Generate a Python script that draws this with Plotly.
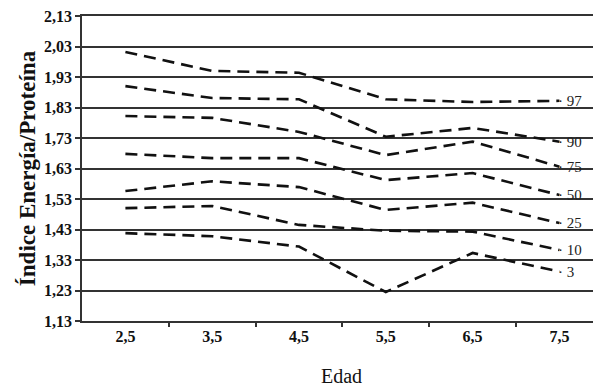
import plotly.graph_objects as go

edad = [2.5, 3.5, 4.5, 5.5, 6.5, 7.5]
edad_labels = ["2,5", "3,5", "4,5", "5,5", "6,5", "7,5"]
boundaries = [3, 4, 5, 6, 7]

percentiles = ["97", "90", "75", "50", "25", "10", "3"]
p97 = [2.012, 1.950, 1.944, 1.857, 1.848, 1.852]
p90 = [1.900, 1.861, 1.857, 1.734, 1.763, 1.718]
p75 = [1.802, 1.796, 1.750, 1.674, 1.718, 1.636]
p50 = [1.678, 1.664, 1.664, 1.592, 1.615, 1.543]
p25 = [1.556, 1.588, 1.569, 1.494, 1.518, 1.451]
p10 = [1.500, 1.507, 1.445, 1.426, 1.423, 1.363]
p3 = [1.418, 1.408, 1.374, 1.225, 1.353, 1.292]
series = [p97, p90, p75, p50, p25, p10, p3]

y_ticks = [1.13, 1.23, 1.33, 1.43, 1.53, 1.63, 1.73, 1.83, 1.93, 2.03, 2.13]
y_tick_labels = ["1,13", "1,23", "1,33", "1,43", "1,53", "1,63", "1,73", "1,83", "1,93", "2,03", "2,13"]

serif = "Liberation Serif, Times New Roman, serif"

fig = go.Figure()
for name, vals in zip(percentiles, series):
    fig.add_trace(go.Scatter(
        x=edad, y=vals, mode="lines", name=name,
        line=dict(color="#111111", width=2.6, dash="12px,7px"),
        showlegend=False, hoverinfo="skip",
    ))
    fig.add_annotation(
        x=edad[-1], y=vals[-1], xref="x", yref="y", text="· " + name,
        showarrow=False, xanchor="left", yanchor="middle", xshift=-3,
        font=dict(family=serif, size=15, color="#222222"),
    )

# page body has an 8px margin, so the figure is sized/offset to compensate
fig.update_layout(
    width=593, height=379,
    margin=dict(l=74, r=0, t=8, b=66),
    paper_bgcolor="white", plot_bgcolor="white",
    showlegend=False,
)
fig.update_xaxes(
    automargin=False,
    range=[2.0, 7.979],
    tickvals=edad, ticktext=edad_labels, ticks="",
    tickfont=dict(family=serif, size=16, color="#111111", weight="bold"),
    showgrid=False, zeroline=False,
    showline=True, mirror=True, linecolor="#333333", linewidth=1.5,
    minor=dict(tickvals=boundaries, ticks="outside", ticklen=4, tickwidth=1.5, tickcolor="#333333", showgrid=False),
    title=dict(text="Edad", font=dict(family=serif, size=20, color="#111111"), standoff=26),
)
fig.update_yaxes(
    automargin=False,
    range=[1.13, 2.13],
    tickvals=y_ticks, ticktext=y_tick_labels, ticklabeloverflow="allow",
    ticks="outside", ticklen=5, tickwidth=1.5, tickcolor="#333333",
    tickfont=dict(family=serif, size=16, color="#111111", weight="bold"),
    showgrid=True, gridcolor="#333333", gridwidth=1.5,
    zeroline=False, showline=True, linecolor="#333333", linewidth=1.5,
    title=dict(text="Índice Energía/Proteína", font=dict(family=serif, size=23, color="#111111", weight="bold"), standoff=2),
)

fig.write_html("out.html")
